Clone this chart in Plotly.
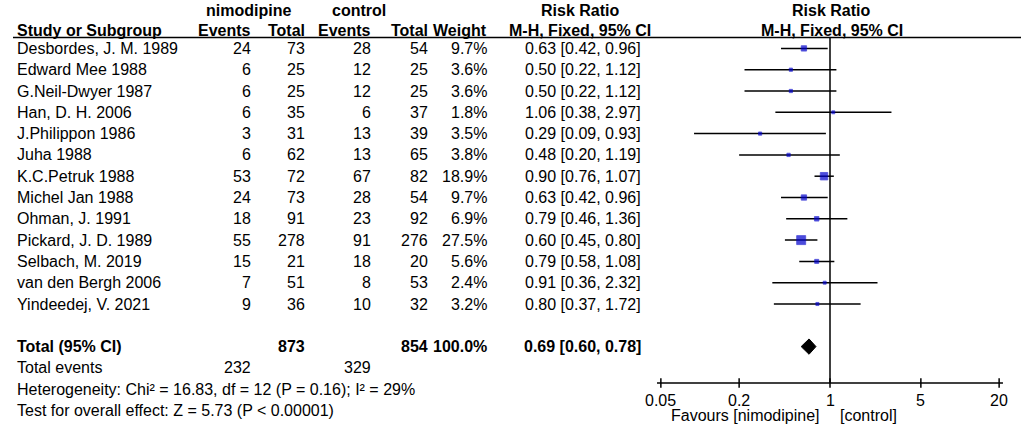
import math
import plotly.graph_objects as go

# ─── Data ────────────────────────────────────────────────────────────────────
studies = [
    "Desbordes, J. M. 1989", "Edward Mee 1988", "G.Neil-Dwyer 1987",
    "Han, D. H. 2006", "J.Philippon 1986", "Juha 1988", "K.C.Petruk 1988",
    "Michel Jan 1988", "Ohman, J. 1991", "Pickard, J. D. 1989",
    "Selbach, M. 2019", "van den Bergh 2006", "Yindeedej, V. 2021",
]
nim_events = [24, 6, 6, 6, 3, 6, 53, 24, 18, 55, 15, 7, 9]
nim_total = [73, 25, 25, 35, 31, 62, 72, 73, 91, 278, 21, 51, 36]
ctl_events = [28, 12, 12, 6, 13, 13, 67, 28, 23, 91, 18, 8, 10]
ctl_total = [54, 25, 25, 37, 39, 65, 82, 54, 92, 276, 20, 53, 32]
weights = [9.7, 3.6, 3.6, 1.8, 3.5, 3.8, 18.9, 9.7, 6.9, 27.5, 5.6, 2.4, 3.2]
rr = [0.63, 0.50, 0.50, 1.06, 0.29, 0.48, 0.90, 0.63, 0.79, 0.60, 0.79, 0.91, 0.80]
rr_lo = [0.42, 0.22, 0.22, 0.38, 0.09, 0.20, 0.76, 0.42, 0.46, 0.45, 0.58, 0.36, 0.37]
rr_hi = [0.96, 1.12, 1.12, 2.97, 0.93, 1.19, 1.07, 0.96, 1.36, 0.80, 1.08, 2.32, 1.72]

total_nim, total_ctl = 873, 854
total_weight = 100.0
events_nim, events_ctl = 232, 329
total_rr, total_lo, total_hi = 0.69, 0.60, 0.78
heterogeneity = "Heterogeneity: Chi² = 16.83, df = 12 (P = 0.16); I² = 29%"
overall = "Test for overall effect: Z = 5.73 (P < 0.00001)"

tick_vals = [0.05, 0.2, 1, 5, 20]
tick_text = ["0.05", "0.2", "1", "5", "20"]

# ─── Layout constants (pixels) ───────────────────────────────────────────────
W, H = 1021, 432
ROW0, PITCH = 48.4, 21.3          # y of first study row, row spacing
FONT = "Liberation Sans, Arial, sans-serif"
BLUE = "#0000cc"


def ry(p):
    """pixel y -> row units"""
    return (p - ROW0) / PITCH


def px(x):
    return x / W


n = len(studies)
rows = list(range(n))
row_total = n + 1
row_events = n + 2
row_het = n + 3
row_test = n + 4
y_head1, y_head2 = ry(10), ry(30)
y_rule = ry(37.5)
y_axis = ry(383)

fig = go.Figure()

# CI whiskers
xs, ys = [], []
for i in rows:
    xs += [rr_lo[i], rr_hi[i], None]
    ys += [i, i, None]
fig.add_trace(go.Scatter(x=xs, y=ys, mode="lines",
                         line=dict(color="black", width=1.5),
                         hoverinfo="skip", showlegend=False))

# weight squares
sizes = [max(3, 9 * math.sqrt(w / max(weights))) for w in weights]
fig.add_trace(go.Scatter(x=rr, y=rows, mode="markers",
                         marker=dict(symbol="square", size=sizes, color=BLUE,
                                     line=dict(color=BLUE, width=0.8)),
                         showlegend=False))

# pooled diamond
fig.add_trace(go.Scatter(
    x=[total_lo, total_rr, total_hi, total_rr, total_lo],
    y=[row_total, row_total - 0.36, row_total, row_total + 0.36, row_total],
    mode="lines", fill="toself", fillcolor="black",
    line=dict(color="black", width=1), showlegend=False))

# axis ticks
tx, tyy = [], []
for v in tick_vals:
    tx += [v, v, None]
    tyy += [y_axis - 0.22, y_axis + 0.22, None]
fig.add_trace(go.Scatter(x=tx, y=tyy, mode="lines",
                         line=dict(color="black", width=1.5),
                         hoverinfo="skip", showlegend=False))

shapes = [
    # header rule
    dict(type="line", xref="paper", yref="y", x0=px(13), x1=1,
         y0=y_rule, y1=y_rule, line=dict(color="black", width=1.5)),
    # line of no effect
    dict(type="line", xref="x", yref="y", x0=1, x1=1,
         y0=y_rule, y1=y_axis, line=dict(color="black", width=1.5)),
    # x axis line
    dict(type="line", xref="x", yref="y", x0=0.0467, x1=21.4,
         y0=y_axis, y1=y_axis, line=dict(color="black", width=1.5)),
]

ann = []


def txt(text, x, y, anchor="left", bold=False, xref="paper"):
    xv = px(x) if xref == "paper" else math.log10(x)
    ann.append(dict(text=f"<b>{text}</b>" if bold else text,
                    x=xv, y=y, xref=xref, yref="y",
                    xanchor=anchor, yanchor="middle", showarrow=False,
                    font=dict(family=FONT, size=16, color="black")))


# headers
txt("nimodipine", 248, y_head1, "center", True)
txt("control", 359, y_head1, "center", True)
txt("Risk Ratio", 580, y_head1, "center", True)
txt("Risk Ratio", 831, y_head1, "center", True)
txt("Study or Subgroup", 15, y_head2, "left", True)
txt("Events", 253, y_head2, "right", True)
txt("Total", 307, y_head2, "right", True)
txt("Events", 373, y_head2, "right", True)
txt("Total", 430, y_head2, "right", True)
txt("Weight", 489, y_head2, "right", True)
txt("M-H, Fixed, 95% CI", 580, y_head2, "center", True)
txt("M-H, Fixed, 95% CI", 832, y_head2, "center", True)

# study rows
for i in rows:
    txt(studies[i], 15, i)
    txt(str(nim_events[i]), 253, i, "right")
    txt(str(nim_total[i]), 307, i, "right")
    txt(str(ctl_events[i]), 373, i, "right")
    txt(str(ctl_total[i]), 430, i, "right")
    txt(f"{weights[i]:.1f}%", 489, i, "right")
    txt(f"{rr[i]:.2f} [{rr_lo[i]:.2f}, {rr_hi[i]:.2f}]", 643, i, "right")

# totals
txt("Total (95% CI)", 15, row_total, bold=True)
txt(str(total_nim), 307, row_total, "right", True)
txt(str(total_ctl), 430, row_total, "right", True)
txt(f"{total_weight:.1f}%", 489, row_total, "right", True)
txt(f"{total_rr:.2f} [{total_lo:.2f}, {total_hi:.2f}]", 643, row_total, "right", True)
txt("Total events", 15, row_events)
txt(str(events_nim), 253, row_events, "right")
txt(str(events_ctl), 373, row_events, "right")
txt(heterogeneity, 15, row_het)
txt(overall, 15, row_test)

# tick labels and favours
for v, t in zip(tick_vals, tick_text):
    txt(t, v, ry(400), "center", xref="x")
txt("Favours [nimodipine]", 822, ry(415), "right")
txt("[control]", 838, ry(415), "left")

x_lo = (640 - 830) / 130
x_hi = (W - 830) / 130
fig.update_layout(
    width=W, height=H,
    margin=dict(l=0, r=0, t=0, b=0),
    paper_bgcolor="white", plot_bgcolor="white",
    xaxis=dict(type="log", range=[x_lo, x_hi], domain=[px(640), 1],
               visible=False, fixedrange=True),
    yaxis=dict(range=[ry(H), ry(0)], visible=False, fixedrange=True),
    shapes=shapes, annotations=ann, showlegend=False,
)

fig.write_html("out.html", config={"displayModeBar": False},
               post_script="document.body.style.margin='0';")
